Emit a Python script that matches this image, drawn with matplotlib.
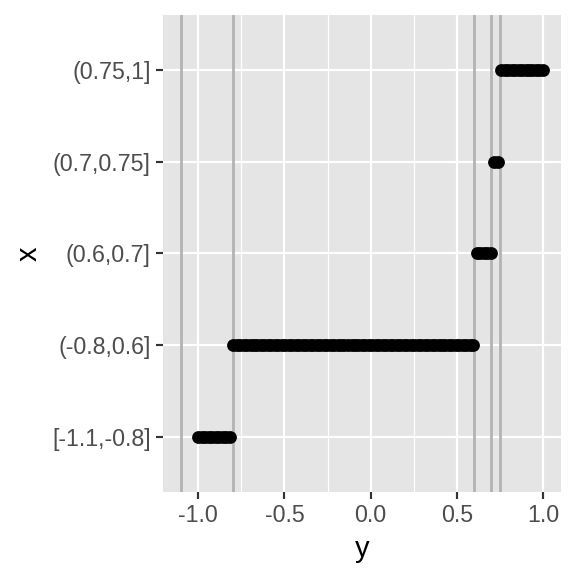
import numpy as np
import matplotlib
matplotlib.use("Agg")
import matplotlib.pyplot as plt
from matplotlib.ticker import FixedLocator

plt.rcParams['font.family'] = ['Liberation Sans', 'DejaVu Sans']

# data
y_values = [
    -1.000, -0.980, -0.960, -0.939, -0.919, -0.899, -0.879, -0.859, -0.838, -0.818,
    -0.798, -0.778, -0.758, -0.737, -0.717, -0.697, -0.677, -0.657, -0.636, -0.616,
    -0.596, -0.576, -0.556, -0.535, -0.515, -0.495, -0.475, -0.455, -0.434, -0.414,
    -0.394, -0.374, -0.354, -0.333, -0.313, -0.293, -0.273, -0.253, -0.232, -0.212,
    -0.192, -0.172, -0.152, -0.131, -0.111, -0.091, -0.071, -0.051, -0.030, -0.010,
    0.010, 0.030, 0.051, 0.071, 0.091, 0.111, 0.131, 0.152, 0.172, 0.192,
    0.212, 0.232, 0.253, 0.273, 0.293, 0.313, 0.333, 0.354, 0.374, 0.394,
    0.414, 0.434, 0.455, 0.475, 0.495, 0.515, 0.535, 0.556, 0.576, 0.596,
    0.616, 0.636, 0.657, 0.677, 0.697, 0.717, 0.737, 0.758, 0.778, 0.798,
    0.818, 0.838, 0.859, 0.879, 0.899, 0.919, 0.939, 0.960, 0.980, 1.000,
]
breaks = [-1.1, -0.8, 0.6, 0.7, 0.75, 1.0]
vline_breaks = [-1.1, -0.8, 0.6, 0.7, 0.75]
category_labels = ["[-1.1,-0.8]", "(-0.8,0.6]", "(0.6,0.7]", "(0.7,0.75]", "(0.75,1]"]
x_ticks = [-1.0, -0.5, 0.0, 0.5, 1.0]
x_tick_labels = ["-1.0", "-0.5", "0.0", "0.5", "1.0"]
x_minor = [-0.75, -0.25, 0.25, 0.75]

yv = np.array(y_values)
# right-closed intervals, first includes lowest
cat = np.searchsorted(np.array(breaks[1:-1]), yv, side='left') + 1

fig = plt.figure(figsize=(4, 4), dpi=144)
ax = fig.add_axes([0.283, 0.146, 0.691, 0.828])
ax.set_facecolor('#E5E5E5')

ax.set_xlim(-1.205, 1.105)
ax.set_ylim(0.4, 5.6)

for v in x_minor:
    ax.axvline(v, color='white', lw=0.6, zorder=1)
for v in x_ticks:
    ax.axvline(v, color='white', lw=1.1, zorder=1)
for c in range(1, 6):
    ax.axhline(c, color='white', lw=1.1, zorder=1)

for b in vline_breaks:
    ax.axvline(b, color='#B3B3B3', lw=1.4, zorder=2)

ax.plot(yv, cat, 'o', color='black', markersize=6.4, markeredgewidth=0, zorder=3)

ax.xaxis.set_major_locator(FixedLocator(x_ticks))
ax.set_xticklabels(x_tick_labels)
ax.set_yticks(range(1, 6))
ax.set_yticklabels(category_labels)

for s in ax.spines.values():
    s.set_visible(False)
ax.tick_params(axis='both', which='major', length=3.6, width=1.07, color='#333333',
               labelcolor='#4D4D4D', labelsize=11.6, pad=2.5)
ax.set_xlabel('y', fontsize=14.5, color='black', labelpad=4)
ax.set_ylabel('x', fontsize=14.5, color='black', labelpad=5)

fig.savefig('out.png', dpi=144)
